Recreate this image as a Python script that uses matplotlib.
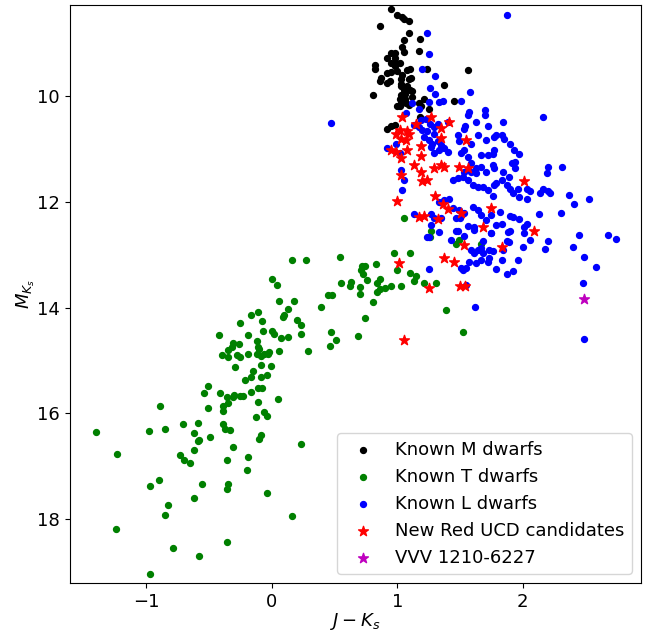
import numpy as np
import matplotlib
matplotlib.use("Agg")
import matplotlib.pyplot as plt

# colour J-Ks and absolute magnitude M_Ks
m_dwarfs = np.array([
    (0.95, 8.36), (1.00, 8.46), (1.04, 8.51), (1.05, 8.55), (1.09, 8.59), (0.86, 8.68),
    (1.09, 8.80), (1.05, 8.94), (1.18, 8.92), (1.04, 9.08), (1.05, 9.17), (1.17, 9.14),
    (0.95, 9.19), (0.98, 9.19), (0.92, 9.29), (0.98, 9.29), (0.95, 9.37), (0.99, 9.38),
    (1.02, 9.38), (0.82, 9.42), (0.82, 9.49), (0.98, 9.43), (1.10, 9.48), (1.08, 9.51),
    (1.24, 9.49), (1.56, 9.51), (0.95, 9.54), (1.00, 9.52), (0.92, 9.57), (1.04, 9.60),
    (1.03, 9.67), (1.11, 9.65), (1.09, 9.68), (0.87, 9.65), (0.86, 9.72), (0.94, 9.71),
    (0.92, 9.75), (1.03, 9.78), (1.03, 9.82), (1.08, 9.81), (1.07, 9.85), (1.37, 9.79),
    (1.05, 9.89), (1.10, 9.89), (1.12, 9.90), (0.81, 9.99), (1.03, 9.98), (1.06, 9.97),
    (1.02, 10.06), (1.06, 10.06), (1.12, 10.02), (1.21, 10.06), (1.45, 10.10), (1.03, 10.13),
    (1.05, 10.11), (1.17, 10.14), (1.19, 10.18), (1.00, 10.19), (1.02, 10.19), (1.25, 10.25),
    (1.07, 10.14), (1.09, 10.17), (1.18, 10.40), (0.95, 10.57), (0.92, 10.62), (0.98, 10.55),
])

t_dwarfs = np.array([
    (1.27, 12.56), (1.47, 12.79), (1.49, 12.72), (0.16, 13.10), (0.27, 13.11), (0.54, 13.05),
    (0.97, 12.96), (1.10, 12.96), (0.72, 13.21), (0.74, 13.21), (0.71, 13.30), (0.73, 13.36),
    (0.83, 13.18), (1.00, 13.30), (1.10, 13.34), (1.15, 13.41), (1.13, 13.50), (1.21, 13.53),
    (1.31, 13.54), (0.00, 13.47), (0.04, 13.58), (0.55, 13.54), (0.63, 13.52), (0.62, 13.59),
    (0.76, 13.48), (0.70, 13.62), (0.70, 13.74), (0.86, 13.46), (0.84, 13.54), (0.84, 13.70),
    (0.86, 13.65), (0.90, 13.64), (0.95, 13.59), (1.03, 13.59), (0.45, 13.76), (0.48, 13.77),
    (0.06, 13.88), (0.18, 13.87), (0.81, 13.90), (0.39, 13.99), (0.13, 14.03), (0.10, 14.14),
    (0.09, 14.18), (0.20, 14.23), (0.23, 14.34), (0.74, 14.20), (1.39, 14.05), (0.00, 14.44),
    (0.02, 14.50), (0.07, 14.58), (0.13, 14.56), (0.23, 14.51), (0.47, 14.46), (0.51, 14.61),
    (0.69, 14.54), (1.52, 14.46), (0.46, 14.73),
    (-0.17, 14.15), (-0.11, 14.09), (-0.08, 14.26), (-0.25, 14.29), (-0.42, 14.52), (-0.19, 14.52),
    (-0.07, 14.44), (0.29, 14.83), (0.06, 14.82), (-0.31, 14.68), (-0.26, 14.69), (-0.32, 14.75),
    (-0.35, 14.81), (-0.40, 14.89), (-0.35, 14.93), (-0.28, 14.89), (-0.25, 14.94), (-0.19, 14.88),
    (-0.12, 14.63), (-0.11, 14.75), (-0.10, 14.79), (-0.12, 14.88), (-0.09, 14.91), (-0.06, 14.88),
    (-0.03, 14.88), (-0.02, 14.85), (-0.29, 15.13), (-0.09, 15.08), (-0.01, 15.10), (-0.15, 15.20),
    (-0.17, 15.31), (-0.21, 15.37), (-0.09, 15.31), (-0.04, 15.28), (-0.51, 15.48), (-0.54, 15.62),
    (-0.41, 15.62), (-0.36, 15.70), (-0.31, 15.70), (-0.30, 15.65), (-0.25, 15.67), (-0.23, 15.68),
    (-0.17, 15.60), (-0.11, 15.53), (-0.08, 15.53), (0.05, 15.73),
    (-0.89, 15.86), (-1.40, 16.35), (-0.98, 16.33), (-0.85, 16.30), (-0.71, 16.21), (-0.59, 16.19),
    (-0.62, 16.38), (-0.58, 16.50), (-0.59, 16.53), (-0.49, 16.45), (-0.51, 15.90), (-0.35, 15.81),
    (-0.39, 15.87), (-0.39, 15.95), (-0.11, 15.79), (-0.06, 15.98), (-0.04, 16.05), (-0.13, 16.08),
    (-0.39, 16.20), (-0.37, 16.30), (-0.33, 16.31), (-0.31, 16.64), (-0.09, 16.41), (-0.10, 16.48),
    (0.23, 16.59), (-1.23, 16.77), (-0.73, 16.79), (-0.70, 16.89), (-0.65, 16.94), (-0.62, 16.70),
    (-0.36, 16.88), (-0.19, 16.83), (-0.20, 17.08), (-0.90, 17.27), (-0.97, 17.38), (-0.56, 17.34),
    (-0.35, 17.34), (-0.36, 17.43), (-0.04, 17.51), (-0.83, 17.73), (-0.85, 17.93), (-0.62, 17.61),
    (0.16, 17.95), (-1.24, 18.19), (-0.36, 18.43), (-0.79, 18.54), (-0.58, 18.70), (-0.97, 19.04),
    (1.05, 12.31), (1.26, 12.67), (1.67, 12.80),
])

l_dwarfs = np.array([
    (1.24, 8.81), (1.25, 9.20), (1.20, 9.49), (1.30, 9.62), (1.26, 9.85), (1.30, 9.96),
    (1.58, 9.92), (1.12, 10.13), (1.25, 10.11), (1.33, 10.11), (1.36, 10.09), (1.17, 10.25),
    (1.07, 10.32), (1.70, 10.26), (1.70, 10.36), (1.57, 10.31), (1.56, 10.36), (1.63, 10.50),
    (1.72, 10.57), (1.54, 10.56), (1.53, 10.62), (0.47, 10.51), (1.87, 8.47),
    (1.51, 10.10), (1.19, 10.45), (1.23, 10.44), (1.26, 10.53), (1.29, 10.58), (1.32, 10.52),
    (1.40, 10.50), (1.13, 10.55), (1.17, 10.59), (1.20, 10.64), (1.24, 10.67), (1.29, 10.71),
    (1.21, 10.77), (1.25, 10.83), (1.28, 10.90), (1.32, 10.86), (1.35, 10.93), (1.37, 10.99),
    (1.40, 11.05), (1.33, 11.02), (1.29, 11.08), (1.27, 10.96), (1.48, 10.74), (1.49, 10.86),
    (1.53, 11.02), (1.59, 10.90), (1.64, 10.74), (1.71, 10.83), (1.79, 10.74), (1.67, 11.12),
    (1.72, 11.12), (1.77, 11.02), (0.99, 10.90), (0.92, 10.99), (1.02, 11.08), (1.51, 11.08),
    (1.56, 11.15), (1.59, 11.27), (1.63, 11.37), (1.67, 11.34), (1.71, 11.43), (1.63, 11.46),
    (1.59, 11.43), (1.53, 11.43), (1.03, 11.40), (1.05, 11.59), (1.04, 11.78), (1.44, 11.59),
    (1.48, 11.56), (1.52, 11.53), (1.56, 11.59), (1.60, 11.68), (1.64, 11.73), (1.68, 11.73),
    (1.72, 11.78), (1.77, 11.68), (1.33, 12.00), (1.37, 11.97), (1.41, 11.94), (1.44, 12.12),
    (1.49, 12.16), (1.53, 12.22), (1.60, 12.09), (1.64, 12.16), (1.67, 12.25), (1.75, 12.25),
    (1.35, 12.31),
    (2.16, 10.40), (1.84, 10.49), (1.77, 10.77), (1.83, 10.73), (1.85, 10.81), (1.90, 10.91),
    (1.93, 11.03), (1.97, 11.09), (1.76, 11.10), (1.94, 11.24), (1.91, 11.27), (1.94, 11.36),
    (1.76, 11.30), (1.77, 11.37), (1.84, 11.43), (2.20, 11.34), (2.31, 11.34), (2.19, 11.46),
    (1.89, 11.54), (1.83, 11.59), (1.79, 11.65), (1.87, 11.68), (1.90, 11.75), (1.92, 11.83),
    (1.96, 11.76), (1.97, 11.91), (2.03, 11.75), (2.06, 11.80), (2.03, 11.94), (2.14, 11.84),
    (2.16, 11.76), (2.20, 11.79), (2.22, 11.83), (2.37, 11.88), (2.41, 12.05), (2.53, 11.95),
    (1.76, 11.89), (1.82, 12.19), (1.90, 12.26), (1.92, 12.29), (1.97, 12.32), (2.13, 12.23),
    (2.30, 12.22),
    (1.79, 12.44), (1.83, 12.42), (2.03, 12.43), (2.01, 12.47), (1.90, 12.55), (1.88, 12.58),
    (1.75, 12.60), (2.01, 12.60), (1.87, 12.75), (1.89, 12.76), (2.06, 12.73), (2.20, 12.75),
    (2.18, 12.90), (2.00, 12.85), (1.84, 12.92), (1.76, 12.94), (2.45, 12.62), (2.68, 12.63),
    (2.74, 12.70), (2.40, 12.86), (2.49, 13.04), (2.58, 13.23), (1.83, 13.11), (1.96, 13.10),
    (1.79, 13.28), (1.87, 13.37), (1.92, 13.31), (2.48, 13.53), (2.49, 14.60),
    (1.13, 12.23), (1.27, 12.24), (1.29, 12.31), (1.27, 12.44), (1.33, 12.58), (1.24, 12.67),
    (1.25, 12.67), (1.47, 12.31), (1.50, 12.31), (1.47, 12.56), (1.48, 12.56), (1.43, 12.72),
    (1.56, 12.46), (1.61, 12.48), (1.61, 12.53), (1.53, 12.65), (1.71, 12.34), (1.75, 12.60),
    (1.68, 12.75), (1.67, 12.88), (1.68, 12.97), (1.59, 12.91), (1.61, 12.97), (1.64, 12.91),
    (1.73, 12.91), (1.73, 13.07), (1.72, 13.13), (1.67, 13.10), (1.63, 13.16), (1.57, 13.13),
    (1.55, 13.26), (1.52, 13.29), (1.51, 13.26), (1.25, 13.28), (1.55, 13.57), (1.62, 13.99),
])

new_ucd = np.array([
    (1.04, 10.40), (1.27, 10.40), (1.15, 10.53), (1.41, 10.50), (1.35, 10.61), (1.02, 10.64),
    (1.08, 10.67), (0.99, 10.71), (1.03, 10.82), (1.07, 10.84), (1.09, 10.71), (1.35, 10.80),
    (1.55, 10.84), (1.19, 10.95), (0.95, 11.02), (0.99, 11.05), (1.08, 11.02), (1.03, 11.18),
    (1.19, 11.13), (1.13, 11.30), (1.29, 11.37), (1.35, 11.30), (1.37, 11.34), (1.49, 11.34),
    (1.56, 11.37), (1.03, 11.49), (1.19, 11.43), (1.20, 11.60), (1.24, 11.59), (1.00, 11.98),
    (1.30, 11.89), (1.36, 12.04), (1.40, 12.14), (1.51, 12.21), (1.75, 12.11), (1.17, 12.28),
    (1.21, 12.27), (1.32, 12.33), (1.68, 12.48), (1.53, 12.82), (1.83, 12.86), (1.01, 13.16),
    (1.37, 13.07), (1.45, 13.13), (1.25, 13.64), (1.50, 13.59), (1.54, 13.60), (1.05, 14.61),
    (2.01, 11.60), (2.09, 12.55),
])

vvv = np.array([(2.49, 13.83)])

fig = plt.figure(figsize=(6.46, 6.33), dpi=100)
ax = fig.add_axes([0.108, 0.079, 0.884, 0.913])

ax.scatter(m_dwarfs[:, 0], m_dwarfs[:, 1], s=18, c='k', label='Known M dwarfs')
ax.scatter(t_dwarfs[:, 0], t_dwarfs[:, 1], s=18, c='g', label='Known T dwarfs')
ax.scatter(l_dwarfs[:, 0], l_dwarfs[:, 1], s=18, c='b', label='Known L dwarfs')
ax.scatter(new_ucd[:, 0], new_ucd[:, 1], s=55, c='r', marker='*', label='New Red UCD candidates')
ax.scatter(vvv[:, 0], vvv[:, 1], s=55, c='m', marker='*', label='VVV 1210-6227')

ax.set_xlim(-1.61, 2.94)
ax.set_ylim(19.21, 8.28)
ax.set_xticks([-1, 0, 1, 2])
ax.set_yticks([10, 12, 14, 16, 18])
ax.tick_params(labelsize=13)
ax.set_xlabel('$J - K_s$', fontsize=13, labelpad=0)
ax.set_ylabel('$M_{K_s}$', fontsize=13, labelpad=0)
ax.legend(loc='lower right', fontsize=13)

fig.savefig('out.png', dpi=100)
